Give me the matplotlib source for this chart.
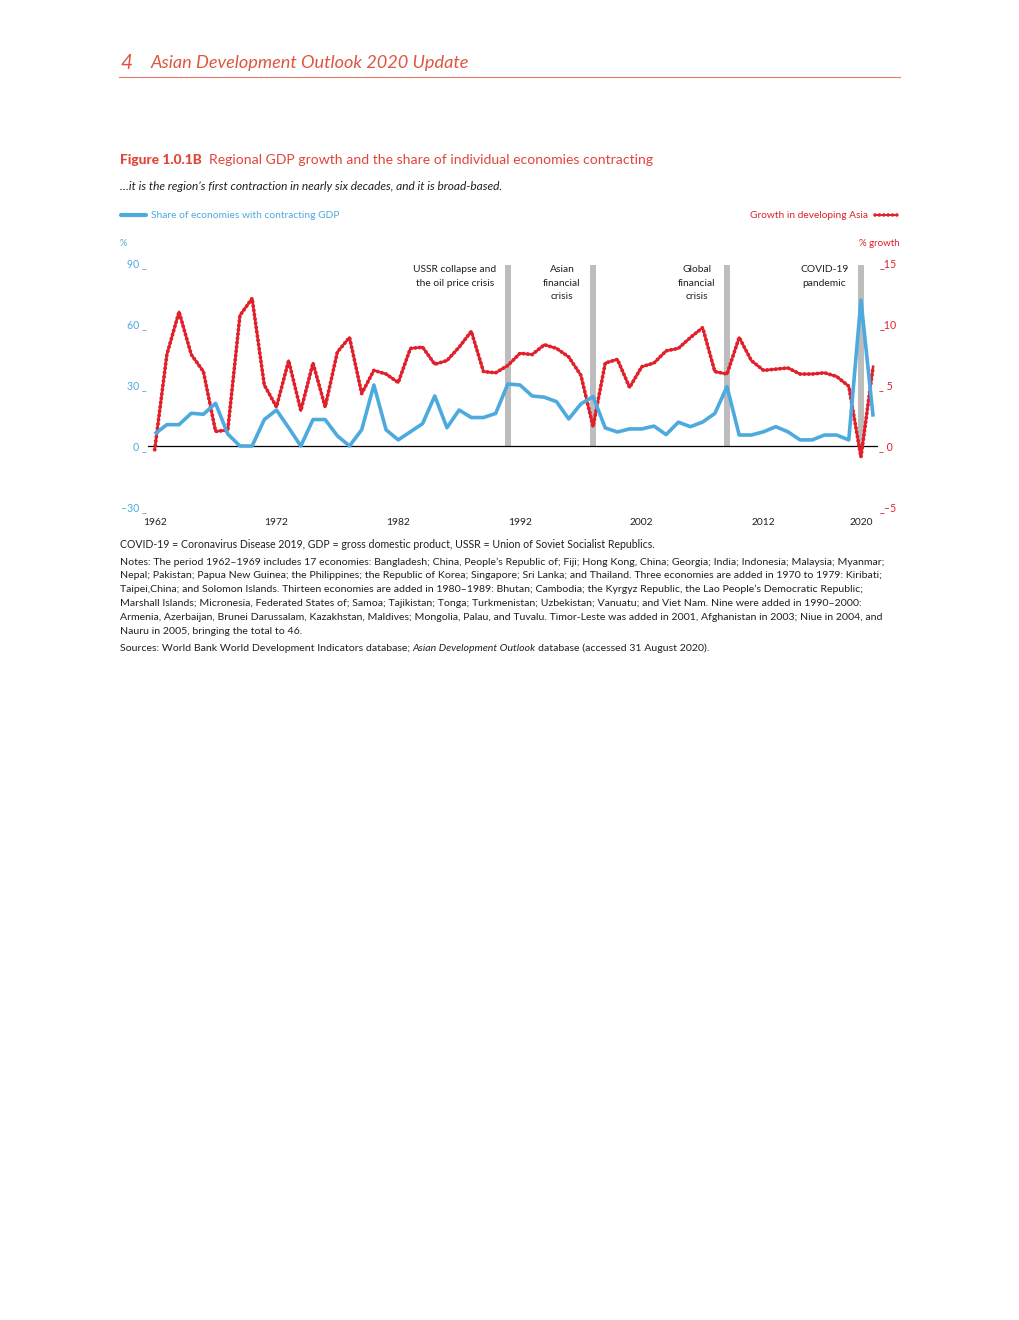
import matplotlib
matplotlib.use("Agg")
import matplotlib.pyplot as plt
from matplotlib.lines import Line2D

plt.rcParams['font.family'] = ['Lato', 'DejaVu Sans']

# ---------------- data ----------------
years = list(range(1962, 2022))
growth = [-0.3, 7.5, 11.0, 7.5, 6.1, 1.2, 1.3, 10.7, 12.1, 5.0,
          3.2, 7.0, 2.9, 6.8, 3.2, 7.7, 8.9, 4.3, 6.2, 5.9,
          5.2, 8.0, 8.1, 6.7, 7.0, 8.1, 9.4, 6.1, 6.0, 6.6,
          7.6, 7.5, 8.3, 8.0, 7.3, 5.8, 1.6, 6.8, 7.1, 4.8,
          6.5, 6.8, 7.8, 8.0, 8.9, 9.7, 6.1, 5.9, 8.9, 7.0,
          6.2, 6.3, 6.4, 5.9, 5.9, 6.0, 5.7, 4.9, -0.9, 6.5]
share = [5.9, 10.5, 10.5, 16.1, 15.6, 21.0, 5.9, 0.0, 0.0, 13.0,
         17.7, 9.0, 0.0, 13.0, 13.0, 5.0, 0.0, 8.0, 30.0, 8.0,
         3.0, 7.0, 11.0, 24.6, 9.0, 17.7, 14.0, 14.0, 16.0, 30.5,
         30.0, 24.6, 24.0, 21.8, 13.3, 20.7, 24.3, 8.9, 6.9, 8.4,
         8.4, 9.8, 5.6, 11.7, 9.5, 11.8, 16.0, 29.2, 5.4, 5.4,
         7.0, 9.5, 7.0, 3.0, 3.0, 5.4, 5.4, 3.0, 71.7, 14.4]
crisis_years = [1991, 1998, 2009, 2020]
crisis_labels = ["USSR collapse and\nthe oil price crisis",
                 "Asian\nfinancial\ncrisis",
                 "Global\nfinancial\ncrisis",
                 "COVID-19\npandemic"]
crisis_label_x = [1986.65, 1995.45, 2006.5, 2017.0]
year_ticks = [1962, 1972, 1982, 1992, 2002, 2012, 2020]
left_ticks = [-30, 0, 30, 60, 90]
left_ticklabels = ["\u201330 _", "0 _", "30 _", "60 _", "90 _"]
right_ticks = [-5, 0, 5, 10, 15]
right_ticklabels = ["_\u20135", "_ 0", "_ 5", "_10", "_15"]

BLUE = '#4DAADF'
RED = '#E0202A'
HEAD = '#DD5640'
TITLE = '#E2453A'
GRAY = '#BDBDBD'
TXT = '#231F20'

W, H = 1020, 1320
fig = plt.figure(figsize=(W / 100, H / 100), dpi=100)
renderer = fig.canvas.get_renderer()


def T(x, y, s, width=None, **kw):
    kw.setdefault('va', 'center')
    t = fig.text(x / W, 1 - y / H, s, **kw)
    if width:
        bb = t.get_window_extent(renderer)
        t.set_fontsize(t.get_fontsize() * width / bb.width)
    return t


def right_edge(t):
    bb = t.get_window_extent(renderer)
    return bb.x1


# ---------------- header ----------------
T(120, 63, "4", fontsize=15, style='italic', color=HEAD)
T(151, 63, "Asian Development Outlook 2020 Update", width=319, fontsize=15,
  style='italic', color=HEAD)
fig.add_artist(Line2D([119 / W, 900 / W], [1 - 77 / H, 1 - 77 / H],
                      color='#E37C68', lw=0.8))

# ---------------- title ----------------
T(120, 160, "Figure 1.0.1B", width=82, fontsize=10, fontweight='black', color=TITLE)
T(209, 160, "Regional GDP growth and the share of individual economies contracting",
  width=444, fontsize=10, color=TITLE)
T(120, 186, "\u2026it is the region\u2019s first contraction in nearly six decades, and it is broad-based.",
  width=382, fontsize=8, style='italic', color=TXT)

# ---------------- legend ----------------
fig.add_artist(Line2D([121 / W, 146 / W], [1 - 215 / H, 1 - 215 / H],
                      color=BLUE, lw=3, solid_capstyle='round'))
T(151, 215, "Share of economies with contracting GDP", width=188, fontsize=7, color=BLUE)
T(868, 215, "Growth in developing Asia", width=118, fontsize=7, color=RED, ha='right')
fig.add_artist(Line2D([875 / W, 897 / W], [1 - 215 / H, 1 - 215 / H],
                      color=RED, lw=1.4))
fig.add_artist(Line2D([875 / W, 897 / W], [1 - 215 / H, 1 - 215 / H],
                      color=RED, lw=2.6, ls=(0, (0.01, 1.2)), dash_capstyle='round'))
T(120, 243, "%", fontsize=6.5, color=BLUE)
T(900, 243, "% growth", width=41, fontsize=7, color=RED, ha='right')

# ---------------- axes ----------------
x0, x1 = 148, 878
y_top, y_bot = 263, 507
ax = fig.add_axes([x0 / W, 1 - y_bot / H, (x1 - x0) / W, (y_bot - y_top) / H])
ax.set_xlim(1961.45, 2021.4)
ax.set_ylim(-30, 90)
for s in ax.spines.values():
    s.set_visible(False)

ax.bar(crisis_years, [89] * len(crisis_years), width=0.45, bottom=0,
       color=GRAY, zorder=1)
ax.axhline(0, color='black', lw=0.9, zorder=2)

ax.set_yticks(left_ticks)
ax.set_yticklabels(left_ticklabels, color=BLUE, fontsize=7.6)
ax.tick_params(axis='y', length=0, pad=1)
ax.set_xticks(year_ticks)
ax.set_xticklabels([str(y) for y in year_ticks], color=TXT, fontsize=7.4)
ax.tick_params(axis='x', length=0, pad=8)

ax2 = ax.twinx()
ax2.set_ylim(-5, 15)
for s in ax2.spines.values():
    s.set_visible(False)
ax2.set_yticks(right_ticks)
ax2.set_yticklabels(right_ticklabels, color=RED, fontsize=7.6)
ax2.tick_params(axis='y', length=0, pad=1)

ax2.plot(years, growth, color=RED, lw=1.8, zorder=3, solid_joinstyle='round')
ax2.plot(years, growth, color=RED, lw=2.8, ls=(0, (0.01, 1.1)),
         dash_capstyle='round', zorder=3)
# blue series on top (same scale as left axis)
ax3 = ax.twinx()
ax3.set_ylim(-30, 90)
ax3.axis('off')
ax3.plot(years, share, color=BLUE, lw=2.6, zorder=4, solid_joinstyle='round',
         solid_capstyle='butt')

for lx, lab in zip(crisis_label_x, crisis_labels):
    ax3.text(lx, 89.0, lab, ha='center', va='top', fontsize=7.4, color=TXT,
             linespacing=1.65)

# ---------------- notes ----------------
T(120, 545, "COVID-19 = Coronavirus Disease 2019, GDP = gross domestic product, USSR = Union of Soviet Socialist Republics.",
  width=536, fontsize=7, color=TXT)
notes = [
    "Notes: The period 1962\u20131969 includes 17 economies: Bangladesh; China, People\u2019s Republic of; Fiji; Hong Kong, China; Georgia; India; Indonesia; Malaysia; Myanmar;",
    "Nepal; Pakistan; Papua New Guinea; the Philippines; the Republic of Korea; Singapore; Sri Lanka; and Thailand. Three economies are added in 1970 to 1979: Kiribati;",
    "Taipei,China; and Solomon Islands. Thirteen economies are added in 1980\u20131989: Bhutan; Cambodia; the Kyrgyz Republic, the Lao People\u2019s Democratic Republic;",
    "Marshall Islands; Micronesia, Federated States of; Samoa; Tajikistan; Tonga; Turkmenistan; Uzbekistan; Vanuatu; and Viet Nam. Nine were added in 1990\u20132000:",
    "Armenia, Azerbaijan, Brunei Darussalam, Kazakhstan, Maldives; Mongolia, Palau, and Tuvalu. Timor-Leste was added in 2001, Afghanistan in 2003; Niue in 2004, and",
    "Nauru in 2005, bringing the total to 46.",
]
first = T(120, 562, notes[0], width=762, fontsize=7, color=TXT)
fs = first.get_fontsize()
for i, line in enumerate(notes[1:], start=1):
    T(120, 562 + i * 13.8, line, fontsize=fs, color=TXT)

s1 = T(120, 648, "Sources: World Bank World Development Indicators database;", fontsize=fs, color=TXT)
xe = right_edge(s1) + 2.5
s2 = fig.text(xe / W, 1 - 648 / H, "Asian Development Outlook", fontsize=fs,
              style='italic', color=TXT, va='center')
xe = right_edge(s2) + 2.5
fig.text(xe / W, 1 - 648 / H, "database (accessed 31 August 2020).", fontsize=fs,
         color=TXT, va='center')

fig.savefig("out.png", dpi=100)
